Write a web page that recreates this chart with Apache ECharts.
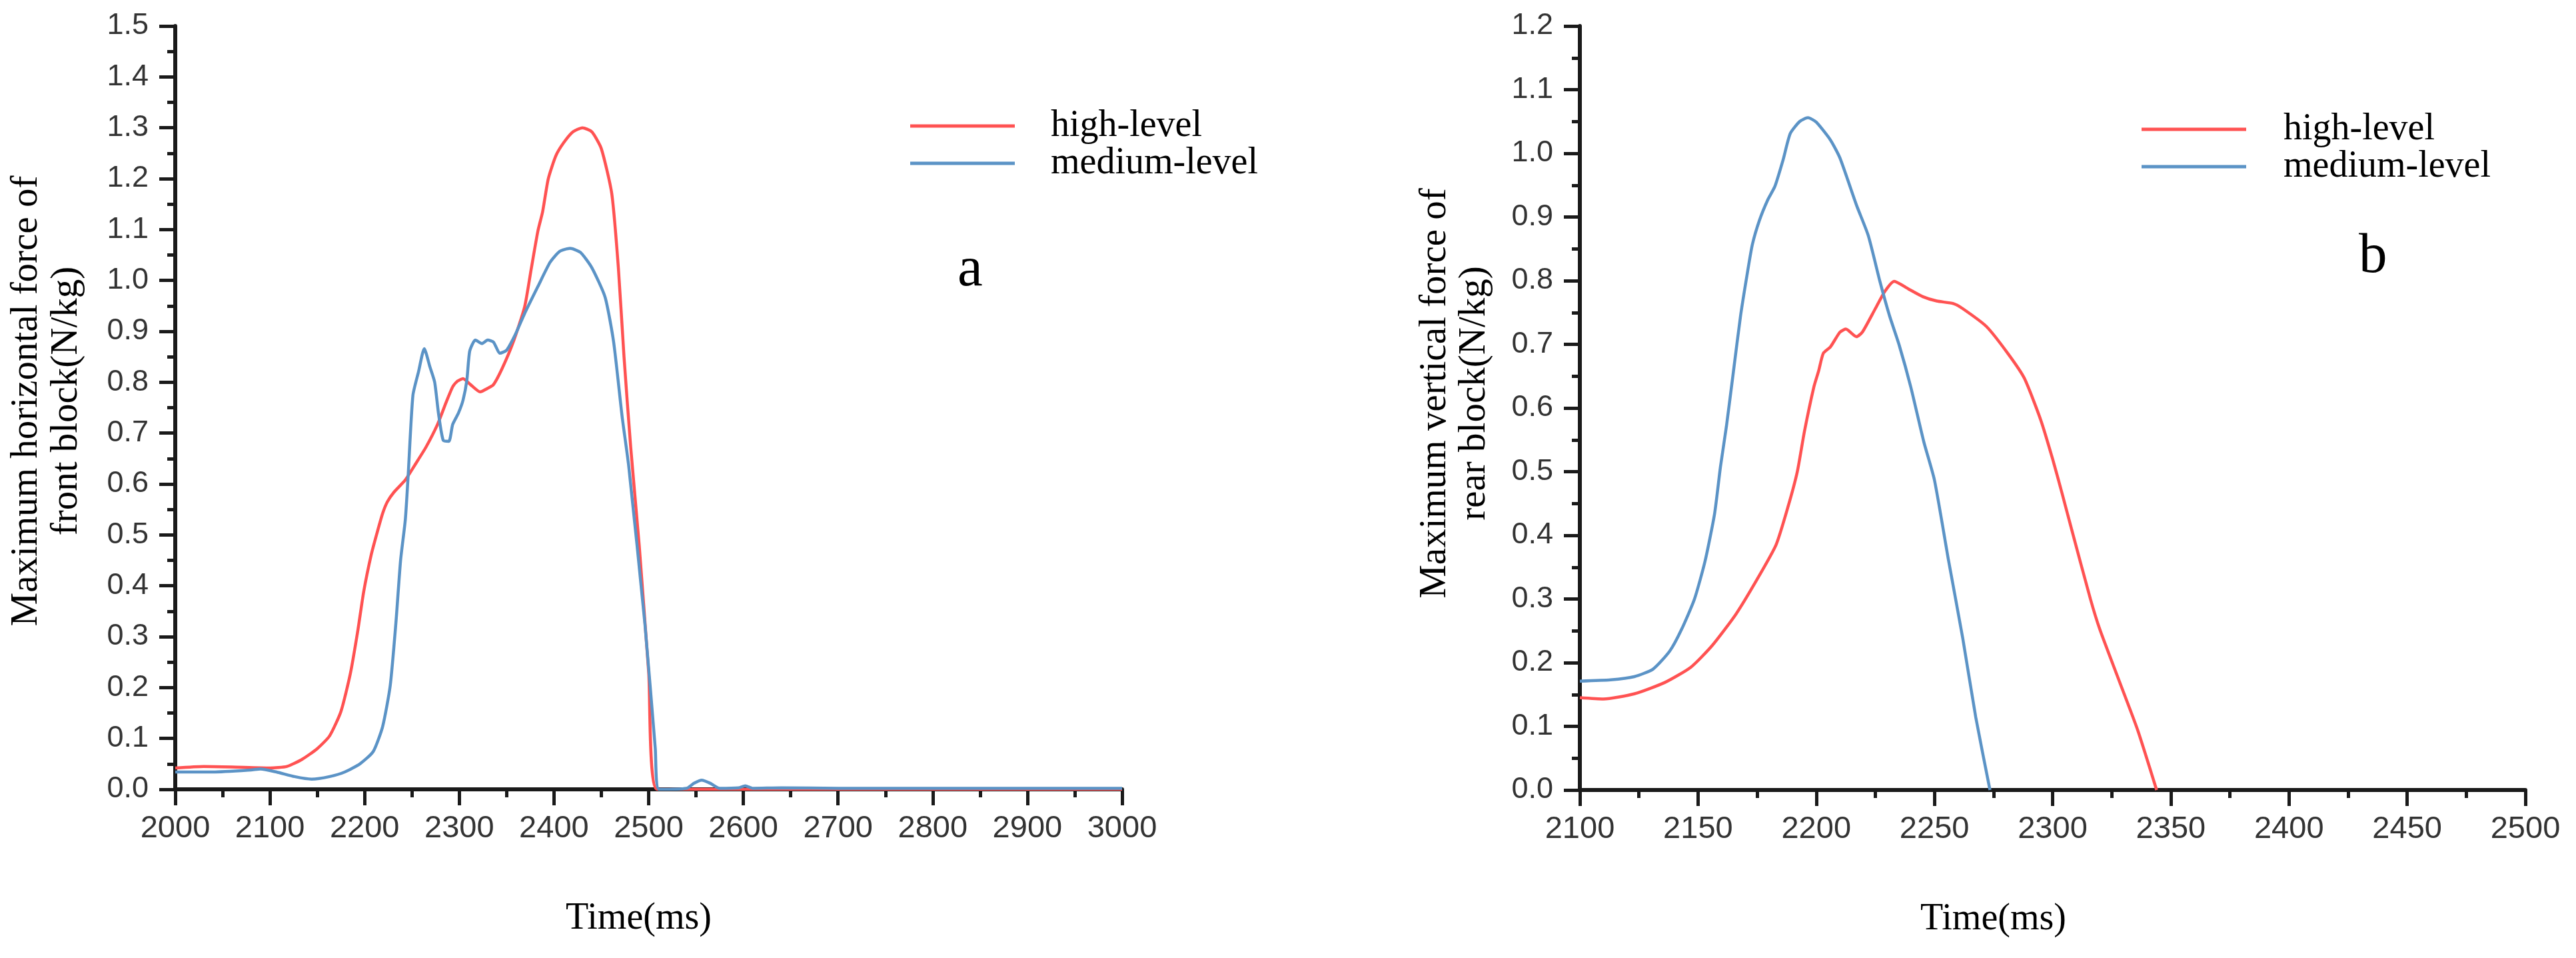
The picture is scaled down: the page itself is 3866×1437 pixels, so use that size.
<!DOCTYPE html>
<html>
<head>
<meta charset="utf-8">
<script src="https://cdn.jsdelivr.net/npm/echarts@6/dist/echarts.min.js"></script>
<style>
html,body{margin:0;padding:0;background:#fff;}
#chart{width:3866px;height:1437px;}
</style>
</head>
<body>
<div id="chart"></div>
<script>
// ---- data ----
const seriesNames = ['high-level', 'medium-level'];

// (a) front block, horizontal force: [time(ms), N/kg]
const frontHigh = [
  [2000,0.042],[2030,0.045],[2060,0.044],[2100,0.042],[2118,0.045],[2134,0.059],[2150,0.080],
  [2163,0.105],[2175,0.153],[2185,0.228],[2193,0.314],[2199,0.388],[2207,0.461],[2213,0.503],
  [2219,0.542],[2224,0.565],[2231,0.584],[2243,0.608],[2254,0.640],[2265,0.673],[2277,0.717],
  [2286,0.760],[2293,0.791],[2298,0.802],[2304,0.807],[2312,0.795],[2322,0.781],[2330,0.788],
  [2336,0.795],[2345,0.826],[2357,0.879],[2369,0.948],[2376,1.023],[2383,1.097],[2388,1.135],
  [2394,1.200],[2402,1.245],[2410,1.270],[2420,1.292],[2430,1.300],[2440,1.292],[2450,1.259],
  [2461,1.171],[2468,1.025],[2474,0.849],[2481,0.673],[2490,0.480],[2500,0.230],[2509,0.0],
  [2600,0.0],[2800,0.0],[3000,0.0]
];
const frontMedium = [
  [2000,0.034],[2040,0.034],[2080,0.038],[2090,0.040],[2107,0.034],[2126,0.025],[2144,0.020],
  [2163,0.025],[2179,0.034],[2195,0.050],[2209,0.074],[2219,0.123],[2227,0.203],[2233,0.326],
  [2238,0.450],[2243,0.530],[2246,0.617],[2251,0.774],[2257,0.821],[2263,0.866],[2269,0.830],
  [2274,0.800],[2278,0.739],[2283,0.686],[2289,0.684],[2293,0.717],[2299,0.739],[2304,0.765],
  [2308,0.804],[2311,0.861],[2317,0.883],[2324,0.876],[2330,0.883],[2336,0.879],[2343,0.857],
  [2350,0.863],[2359,0.893],[2369,0.935],[2383,0.988],[2396,1.036],[2406,1.057],[2417,1.063],
  [2428,1.055],[2440,1.025],[2454,0.967],[2463,0.879],[2472,0.732],[2479,0.634],[2496,0.326],
  [2507,0.080],[2511,0.0],[2540,0.002],[2548,0.012],[2556,0.018],[2565,0.012],[2575,0.002],
  [2595,0.003],[2602,0.007],[2610,0.002],[2640,0.003],[2700,0.002],[2850,0.002],[3000,0.002]
];

// (b) rear block, vertical force: [time(ms), N/kg]
const rearHigh = [
  [2100,0.145],[2110,0.143],[2123,0.151],[2136,0.169],[2147,0.193],[2156,0.227],[2166,0.276],
  [2175,0.331],[2183,0.385],[2188,0.444],[2192,0.500],[2195,0.563],[2199,0.633],[2201,0.658],
  [2203,0.686],[2206,0.696],[2210,0.719],[2212.5,0.724],[2217,0.712],[2219.5,0.719],[2225,0.756],
  [2229,0.783],[2233,0.799],[2239,0.787],[2245,0.775],[2251,0.768],[2258,0.764],[2262,0.756],
  [2272,0.728],[2281,0.686],[2288,0.647],[2295,0.581],[2300,0.520],[2304,0.466],[2308,0.410],
  [2316,0.300],[2320,0.252],[2328,0.173],[2336,0.094],[2344,0.0]
];
const rearMedium = [
  [2100,0.171],[2113,0.173],[2123,0.178],[2131,0.190],[2138,0.218],[2143,0.252],[2148.5,0.300],
  [2153,0.360],[2157,0.434],[2159.5,0.508],[2162,0.571],[2165,0.658],[2168,0.745],[2171,0.815],
  [2173,0.857],[2176,0.895],[2179.5,0.927],[2182.5,0.948],[2186,0.990],[2189,1.031],[2193,1.050],
  [2196.5,1.056],[2200,1.049],[2206,1.021],[2210,0.993],[2217,0.919],[2222,0.871],[2227,0.798],
  [2231,0.745],[2235,0.700],[2240,0.633],[2245.5,0.547],[2250,0.487],[2256,0.360],[2262,0.238],
  [2267.5,0.114],[2273.5,0.0]
];

// axis ranges / ticks
const frontX = {min: 2000, max: 3000, interval: 100};
const frontY = {min: 0, max: 1.5, interval: 0.1};
const rearX = {min: 2100, max: 2500, interval: 50};
const rearY = {min: 0, max: 1.2, interval: 0.1};

const xTitle = 'Time(ms)';
const frontYTitle = 'Maximum horizontal force of\nfront block(N/kg)';
const rearYTitle = 'Maximum vertical force of\nrear block(N/kg)';
const panelLabels = ['a', 'b'];

// ---- styles ----
const RED = '#ff5252';
const BLUE = '#5b93c6';
const AXIS = '#1a1a1a';
const SANS = 'Liberation Sans, Arial, sans-serif';
const SERIF = 'Liberation Serif, Times New Roman, serif';

function tickParts() {
  return {
    axisLine: {show: true, onZero: false, lineStyle: {color: AXIS, width: 6}},
    axisTick: {show: true, inside: false, length: 24, lineStyle: {color: AXIS, width: 5}},
    minorTick: {show: true, splitNumber: 2, length: 12, lineStyle: {color: AXIS, width: 5}}
  };
}
function xAxisOpt(r, gridIndex, namePad) {
  return Object.assign({
    type: 'value', gridIndex: gridIndex, min: r.min, max: r.max, interval: r.interval,
    name: xTitle, nameLocation: 'middle', nameGap: 166,
    nameTextStyle: {fontFamily: SERIF, fontSize: 56, color: '#000', padding: namePad},
    axisLabel: {fontFamily: SANS, fontSize: 47, color: '#333', margin: 36,
      formatter: function (v) { return String(v); }},
    splitLine: {show: false}, minorSplitLine: {show: false}
  }, tickParts());
}
function yAxisOpt(r, gridIndex, title, gap, lh, namePad) {
  return Object.assign({
    type: 'value', gridIndex: gridIndex, min: r.min, max: r.max, interval: r.interval,
    name: title, nameLocation: 'middle', nameRotate: 90, nameGap: gap,
    nameTextStyle: {fontFamily: SERIF, fontSize: 57, color: '#000', lineHeight: lh, padding: namePad},
    axisLabel: {fontFamily: SANS, fontSize: 45, color: '#333', margin: 40,
      formatter: function (v) { return v.toFixed(1); }},
    splitLine: {show: false}, minorSplitLine: {show: false}
  }, tickParts());
}
function lineSeries(name, data, idx, color) {
  return {
    name: name, type: 'line', xAxisIndex: idx, yAxisIndex: idx, data: data,
    showSymbol: false, symbol: 'none', smooth: 0.2, color: color,
    lineStyle: {color: color, width: 4.5}, emphasis: {disabled: true}, animation: false
  };
}
function legendOpt(left, top, lh, pad) {
  return {
    left: left, top: top, orient: 'vertical', icon: 'rect', itemWidth: 157, itemHeight: 5,
    itemGap: 0, padding: 0, selectedMode: false, data: seriesNames,
    textStyle: {fontFamily: SERIF, fontSize: 56, color: '#000', lineHeight: lh, padding: [0, 0, 0, pad]}
  };
}

const chart = echarts.init(document.getElementById('chart'), null, {renderer: 'canvas', devicePixelRatio: 1});
chart.setOption({
  animation: false,
  backgroundColor: '#fff',
  grid: [
    {left: 263, right: 2182, top: 39, bottom: 253},
    {left: 2371, right: 76, top: 39, bottom: 252}
  ],
  xAxis: [xAxisOpt(frontX, 0, [0, 30, 0, 0]), xAxisOpt(rearX, 1, [0, 178, 0, 0])],
  yAxis: [
    yAxisOpt(frontY, 0, frontYTitle, 133, 60, [0, 0, 0, 20]),
    yAxisOpt(rearY, 1, rearYTitle, 128, 59, [0, 0, 0, 44])
  ],
  legend: [legendOpt(1366, 161, 47, 49), legendOpt(3214, 166, 45, 51)],
  series: [
    lineSeries(seriesNames[0], frontHigh, 0, RED),
    lineSeries(seriesNames[1], frontMedium, 0, BLUE),
    lineSeries(seriesNames[0], rearHigh, 1, RED),
    lineSeries(seriesNames[1], rearMedium, 1, BLUE)
  ],
  graphic: [
    {type: 'text', left: 1458 - 21, top: 406 - 43, style: {text: panelLabels[0], font: '85px ' + SERIF, fill: '#000'}},
    {type: 'text', left: 3561 - 21, top: 386 - 43, style: {text: panelLabels[1], font: '85px ' + SERIF, fill: '#000'}}
  ]
});
</script>
</body>
</html>
